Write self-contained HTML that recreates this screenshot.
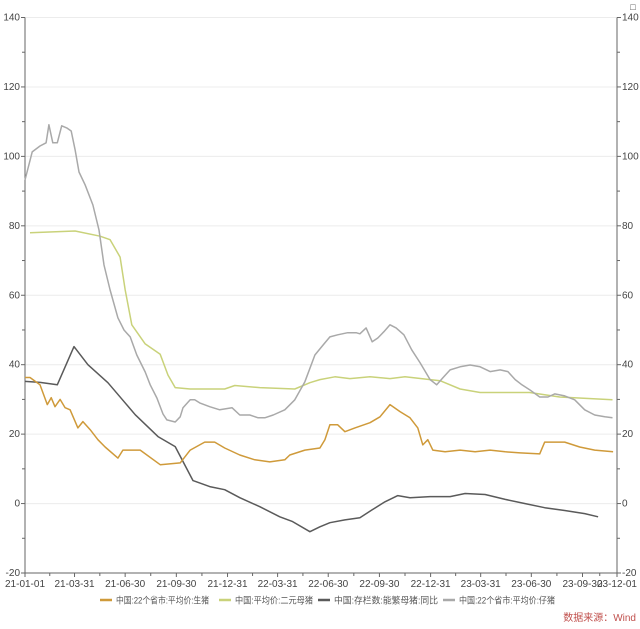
<!DOCTYPE html>
<html><head><meta charset="utf-8"><style>
html,body{margin:0;padding:0;background:#fff;}
body{width:640px;height:629px;overflow:hidden;font-family:"Liberation Sans","Noto Sans CJK SC",sans-serif;}
</style></head><body>
<svg id="chart" width="640" height="629" xmlns="http://www.w3.org/2000/svg" style="position:absolute;left:0;top:0"></svg>
<script>
const yTicks=[-20,0,20,40,60,80,100,120,140];
const xTickDays=[0,89,180,272,364,454,545,637,729,819,910,1002,1064];
const xTickLabels=["21-01-01","21-03-31","21-06-30","21-09-30","21-12-31","22-03-31","22-06-30","22-09-30","22-12-31","23-03-31","23-06-30","23-09-30","23-12-01"];
const piggyDays=[0,13,27,38,43,50,58,66,75,83,90,97,108,122,133,142,153,167,178,189,201,216,225,237,248,255,270,279,284,297,305,314,332,350,372,386,404,419,431,446,467,485,503,521,536,548,562,580,595,602,613,624,634,645,656,667,681,695,710,728,740,751,764,782,800,818,836,854,868,881,893,907,925,940,952,970,988,1006,1024,1042,1056];
const piggyVals=[93.2,101.3,103,103.9,109.1,103.9,103.9,108.8,108.2,107.3,101.9,95.5,91.8,86,78.8,68.7,61.5,53.5,50,48,42.8,37.9,34.2,30.4,25.8,24.1,23.5,25,27.6,29.9,29.9,29,27.9,27,27.6,25.5,25.5,24.7,24.7,25.5,27,29.9,35.1,42.8,45.7,48,48.6,49.2,49.2,48.9,50.6,46.6,47.7,49.5,51.5,50.6,48.6,44.3,40.6,35.7,34.2,36.2,38.5,39.4,39.9,39.4,38,38.5,38,35.7,34.2,32.8,30.7,30.7,31.6,31,29.9,27,25.5,25,24.7];
const sowDays=[9,90,135,153,171,180,192,216,243,257,270,297,359,377,422,485,512,530,557,584,620,656,683,746,782,818,907,961,1056];
const sowVals=[78,78.5,77,76,71,61.5,51.5,46,43,37,33.4,33,33,34,33.4,33,34.8,35.7,36.5,36,36.5,36,36.5,35.4,33,32,32,30.7,29.9];
const hogDays=[0,9,27,40,47,54,63,72,81,95,104,117,131,144,167,176,207,243,279,297,323,341,359,386,413,440,467,476,503,530,539,548,562,575,593,620,638,656,674,692,706,715,724,733,755,782,809,836,863,890,925,934,970,997,1024,1057];
const hogVals=[36.3,36.3,34.2,28.5,30.5,27.9,30,27.6,27,21.8,23.6,21.3,18.4,16.3,13.1,15.4,15.4,11.2,11.7,15.4,17.7,17.7,16,14,12.6,12,12.6,14,15.4,16,18.4,22.7,22.7,20.7,21.8,23.3,25,28.5,26.5,24.7,21.8,16.9,18.4,15.4,14.9,15.4,14.9,15.4,14.9,14.6,14.3,17.7,17.7,16.3,15.4,14.9];
const yoyDays=[0,27,58,88,113,149,198,239,270,302,332,359,386,422,458,481,512,530,548,575,602,624,647,670,692,728,764,791,827,863,899,934,970,1006,1030];
const yoyVals=[35.2,34.9,34.2,45.2,40,34.8,25.6,19.3,16.4,6.6,4.9,4,1.7,-0.9,-3.8,-5.2,-8.1,-6.7,-5.5,-4.7,-4.1,-1.8,0.5,2.3,1.7,2,2,2.9,2.6,1.2,0,-1.2,-2,-2.9,-3.8];

const L=25,R=617,T=17.5,B=573;
const xS=d=>L+(R-L)*d/1064;
const yS=v=>B-(v+20)/160*(B-T);
const svg=document.getElementById('chart');
const NS='http://www.w3.org/2000/svg';
function mk(tag,attrs,parent){const e=document.createElementNS(NS,tag);for(const k in attrs)e.setAttribute(k,attrs[k]);(parent||svg).appendChild(e);return e;}

yTicks.forEach(v=>{
  const y=yS(v);
  if(v>-20){const g=mk('line',{x1:L,x2:R,y1:y,y2:y,stroke:'#ececec','stroke-width':1});
  
  }
  mk('line',{x1:L-4,x2:L,y1:y,y2:y,stroke:'#666'});
  mk('line',{x1:R,x2:R+4,y1:y,y2:y,stroke:'#666'});
  const tl=mk('text',{x:L-5,y:y+3,'text-anchor':'end','font-size':10,fill:'#444'});tl.textContent=v;
  
  
  const tr=mk('text',{x:R+5,y:y+3,'text-anchor':'start','font-size':10,fill:'#444'});tr.textContent=v;
  
  
  if(v<140){const m=yS(v+10);mk('line',{x1:L-3,x2:L,y1:m,y2:m,stroke:'#666'});mk('line',{x1:R,x2:R+3,y1:m,y2:m,stroke:'#666'});}
});
const la=mk('line',{x1:L,x2:L,y1:T,y2:B,stroke:'#666'});


const ra=mk('line',{x1:R,x2:R,y1:T,y2:B,stroke:'#666'});


const xa=mk('line',{x1:L,x2:R,y1:B,y2:B,stroke:'#666'});


xTickDays.forEach((d,i)=>{
  const x=xS(d);
  mk('line',{x1:x,x2:x,y1:B,y2:B+4,stroke:'#666'});
  if(i<xTickDays.length-1){const m=xS((d+xTickDays[i+1])/2);mk('line',{x1:m,x2:m,y1:B,y2:B+3,stroke:'#666'});}
  const anchor=i===xTickDays.length-1?'end':'middle';
  const t=mk('text',{x:i===xTickDays.length-1?x+20:x,y:B+14,'text-anchor':anchor,'font-size':10,fill:'#444'});t.textContent=xTickLabels[i];
  
  
});
const corner=mk('text',{x:633,y:10,'font-size':9,fill:'#444','text-anchor':'middle'});corner.textContent='□';



function series(days,vals,color,name){
  const d=days.map((x,i)=>(i?'L':'M')+xS(x).toFixed(1)+' '+yS(vals[i]).toFixed(1)).join(' ');
  const p=mk('path',{d:d,fill:'none',stroke:color,'stroke-width':1.5,'stroke-linejoin':'round'});
  
  
}
series(sowDays,sowVals,'#c9d27a','line-binary-sow');
series(piggyDays,piggyVals,'#a9a9a9','line-piglet');
series(yoyDays,yoyVals,'#5a5a5a','line-sow-inventory-yoy');
series(hogDays,hogVals,'#cf9a3a','line-hog');

const legend=[["#cf9a3a","中国:22个省市:平均价:生猪",100,93],["#c9d27a","中国:平均价:二元母猪",219,78],["#5a5a5a","中国:存栏数:能繁母猪:同比",318,104],["#a9a9a9","中国:22个省市:平均价:仔猪",443,96]];
legend.forEach(l=>{
  const g=mk('g',{});
  
  
  mk('line',{x1:l[2],x2:l[2]+12,y1:600,y2:600,stroke:l[0],'stroke-width':2.5},g);
  const t=mk('text',{x:l[2]+16,y:603.5,'font-size':9,fill:'#555',textLength:l[3],lengthAdjust:'spacingAndGlyphs'},g);t.textContent=l[1];
});
const src=mk('text',{x:636,y:621,'text-anchor':'end','font-size':10,fill:'#c0504d'});src.textContent='数据来源：Wind';


</script>
</body></html>
